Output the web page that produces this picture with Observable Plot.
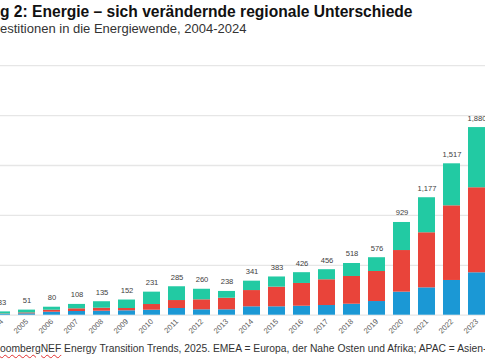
<!DOCTYPE html>
<html>
<head>
<meta charset="utf-8">
<script src="https://cdn.jsdelivr.net/npm/d3@7"></script>
<script src="https://cdn.jsdelivr.net/npm/@observablehq/plot@0.6"></script>
<style>
  html, body { margin: 0; padding: 0; background: #fff; }
  body { width: 485px; height: 360px; overflow: hidden; position: relative;
         font-family: "Liberation Sans", Arial, sans-serif; }
  .line { position: absolute; left: 0; white-space: nowrap; }
  #title { top: 2px; font-size: 15.6px; font-weight: bold; color: #111; line-height: 20px; }
  #subtitle { top: 21px; font-size: 13px; color: #333; line-height: 16px; }
  #footer { top: 341.5px; font-size: 10.3px; color: #333; line-height: 13px; }
  .squiggle { text-decoration: underline wavy #e03030; text-decoration-thickness: 1px; text-underline-offset: 2px; }
  #chart { position: absolute; left: -40px; top: 40px; width: 580px; height: 310px; }
  #chart svg { max-width: none !important; width: 580px; height: 310px; }
</style>
</head>
<body>
<div id="title" class="line"><span class="pre">Abbildun</span>g 2: Energie – sich verändernde regionale Unterschiede</div>
<div id="subtitle" class="line"><span class="pre">Globale Inv</span>estitionen in die Energiewende, 2004-2024</div>
<div id="chart"></div>
<div id="footer" class="line"><span class="pre">Quelle: Bl</span><span class="squiggle">oombergNEF</span> Energy Transition Trends, 2025. EMEA = Europa, der Nahe Osten und Afrika; APAC = Asien-Pazifik; AMER = Amerika.</div>
<script>
// Years on the x axis
const years = ["2004","2005","2006","2007","2008","2009","2010","2011","2012","2013","2014",
               "2015","2016","2017","2018","2019","2020","2021","2022","2023","2024"];
// Investment by region (bn USD)
const amer = [8, 14, 30, 37, 40, 44, 50, 67, 54, 54, 84, 84, 90, 97, 110, 137, 231, 274, 348, 425, 453];
const apac = [4, 9, 20, 27, 30, 23, 57, 80, 100, 116, 163, 197, 228, 258, 278, 301, 417, 552, 748, 852, 950];
const emea = [21, 28, 30, 44, 65, 85, 124, 138, 106, 68, 94, 102, 108, 101, 130, 138, 281, 351, 421, 603, 680];
// Total labels above bars
const totals = [33, 51, 80, 108, 135, 152, 231, 285, 260, 238, 341, 383, 426, 456, 518, 576, 929, 1177, 1517, 1880, 2083];
const regions = ["AMER", "APAC", "EMEA"];
const regionColors = ["#1b98d5", "#e9443a", "#22caa3"];
const gridTicks = [0, 500, 1000, 1500, 2000, 2500];

const series = [amer, apac, emea];
const rows = years.flatMap((year, i) => regions.map((region, j) => ({year, region, value: series[j][i]})));
const totalRows = years.map((year, i) => ({year, total: totals[i]}));
const fmt = d3.format(",");

const chart = Plot.plot({
  width: 580,
  height: 310,
  marginTop: 25.2,
  marginBottom: 35.3,
  marginLeft: 21.3,
  marginRight: 18,
  style: {fontFamily: "'Liberation Sans', Arial, sans-serif", background: "transparent"},
  x: {domain: years, padding: 0.33, label: null},
  y: {domain: [0, 2500], axis: null},
  color: {domain: regions, range: regionColors},
  marks: [
    Plot.gridY(gridTicks, {stroke: "#e6e6e6", strokeOpacity: 1, strokeWidth: 1.3}),
    Plot.barY(rows, {x: "year", y: "value", fill: "region"}),
    Plot.text(totalRows, {x: "year", y: "total", text: d => fmt(d.total), dy: -9.5, fontSize: 7.6, fill: "#404040"}),
    Plot.axisX({tickRotate: -45, tickSize: 0, tickPadding: 5, fontSize: 7.6, fill: "#595959", label: null})
  ]
});
document.getElementById("chart").appendChild(chart);

// Crop each text line on the left as in the reference
for (const id of ["title", "subtitle", "footer"]) {
  const el = document.getElementById(id);
  const pre = el.querySelector(".pre");
  el.style.left = (-pre.getBoundingClientRect().width) + "px";
}
</script>
</body>
</html>
